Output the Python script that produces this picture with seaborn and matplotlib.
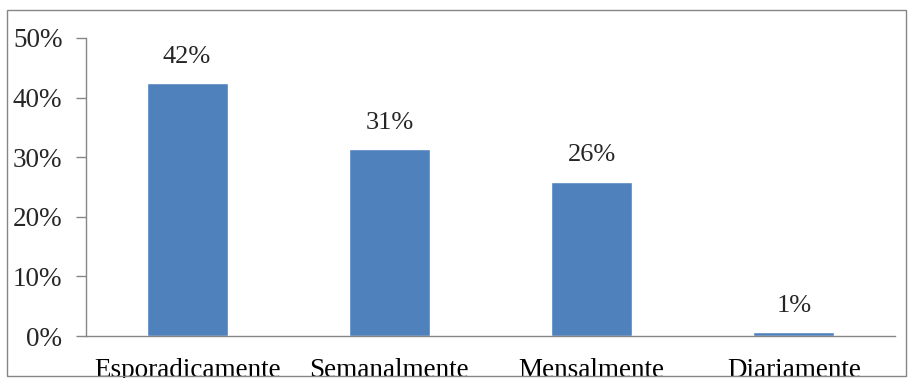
import matplotlib.pyplot as plt
import matplotlib.patches as mpatches
import matplotlib.ticker as mticker
import pandas as pd
import seaborn as sns

# data
categories = ["Esporadicamente", "Semanalmente", "Mensalmente", "Diariamente"]
values = [42.4, 31.3, 25.9, 0.6]
labels = ["42%", "31%", "26%", "1%"]

df = pd.DataFrame({"freq": categories, "pct": values})

sns.set_style("white")
plt.rcParams["font.family"] = ["Liberation Serif", "DejaVu Serif"]

fig = plt.figure(figsize=(9.09, 3.78), dpi=100)
ax = fig.add_axes([0.0946, 0.111, 0.89, 0.7885])

sns.barplot(data=df, x="freq", y="pct", color="#4F81BD", width=0.4,
            saturation=1, ax=ax)

ax.bar_label(ax.containers[0], labels=labels, padding=11, fontsize=19)

ax.set_ylim(0, 50)
ax.set_xlim(-0.5, 3.5)
ax.yaxis.set_major_locator(mticker.MultipleLocator(10))
ax.yaxis.set_major_formatter(mticker.FuncFormatter(lambda v, p: f"{v:.0f}%"))
ax.set_xlabel("")
ax.set_ylabel("")

# category separators as tick marks
ax.set_xticks([-0.5, 0.5, 1.5, 2.5, 3.5], minor=True)
ax.tick_params(axis="x", which="major", length=0, pad=16, labelsize=19.5, colors="black")
ax.tick_params(axis="x", which="minor", length=6, width=1, color="#868686", direction="out")
ax.tick_params(axis="y", which="major", length=7, width=1, color="#868686",
               direction="out", pad=10, labelsize=19.5, left=True)

for side in ["top", "right"]:
    ax.spines[side].set_visible(False)
for side in ["left", "bottom"]:
    ax.spines[side].set_color("#868686")
    ax.spines[side].set_linewidth(1)

# outer chart frame
frame = mpatches.Rectangle((0.008, 0.004), 0.989, 0.97, transform=fig.transFigure,
                           fill=False, edgecolor="#868686", linewidth=1)
fig.patches.append(frame)

fig.savefig("out.png", dpi=100)
